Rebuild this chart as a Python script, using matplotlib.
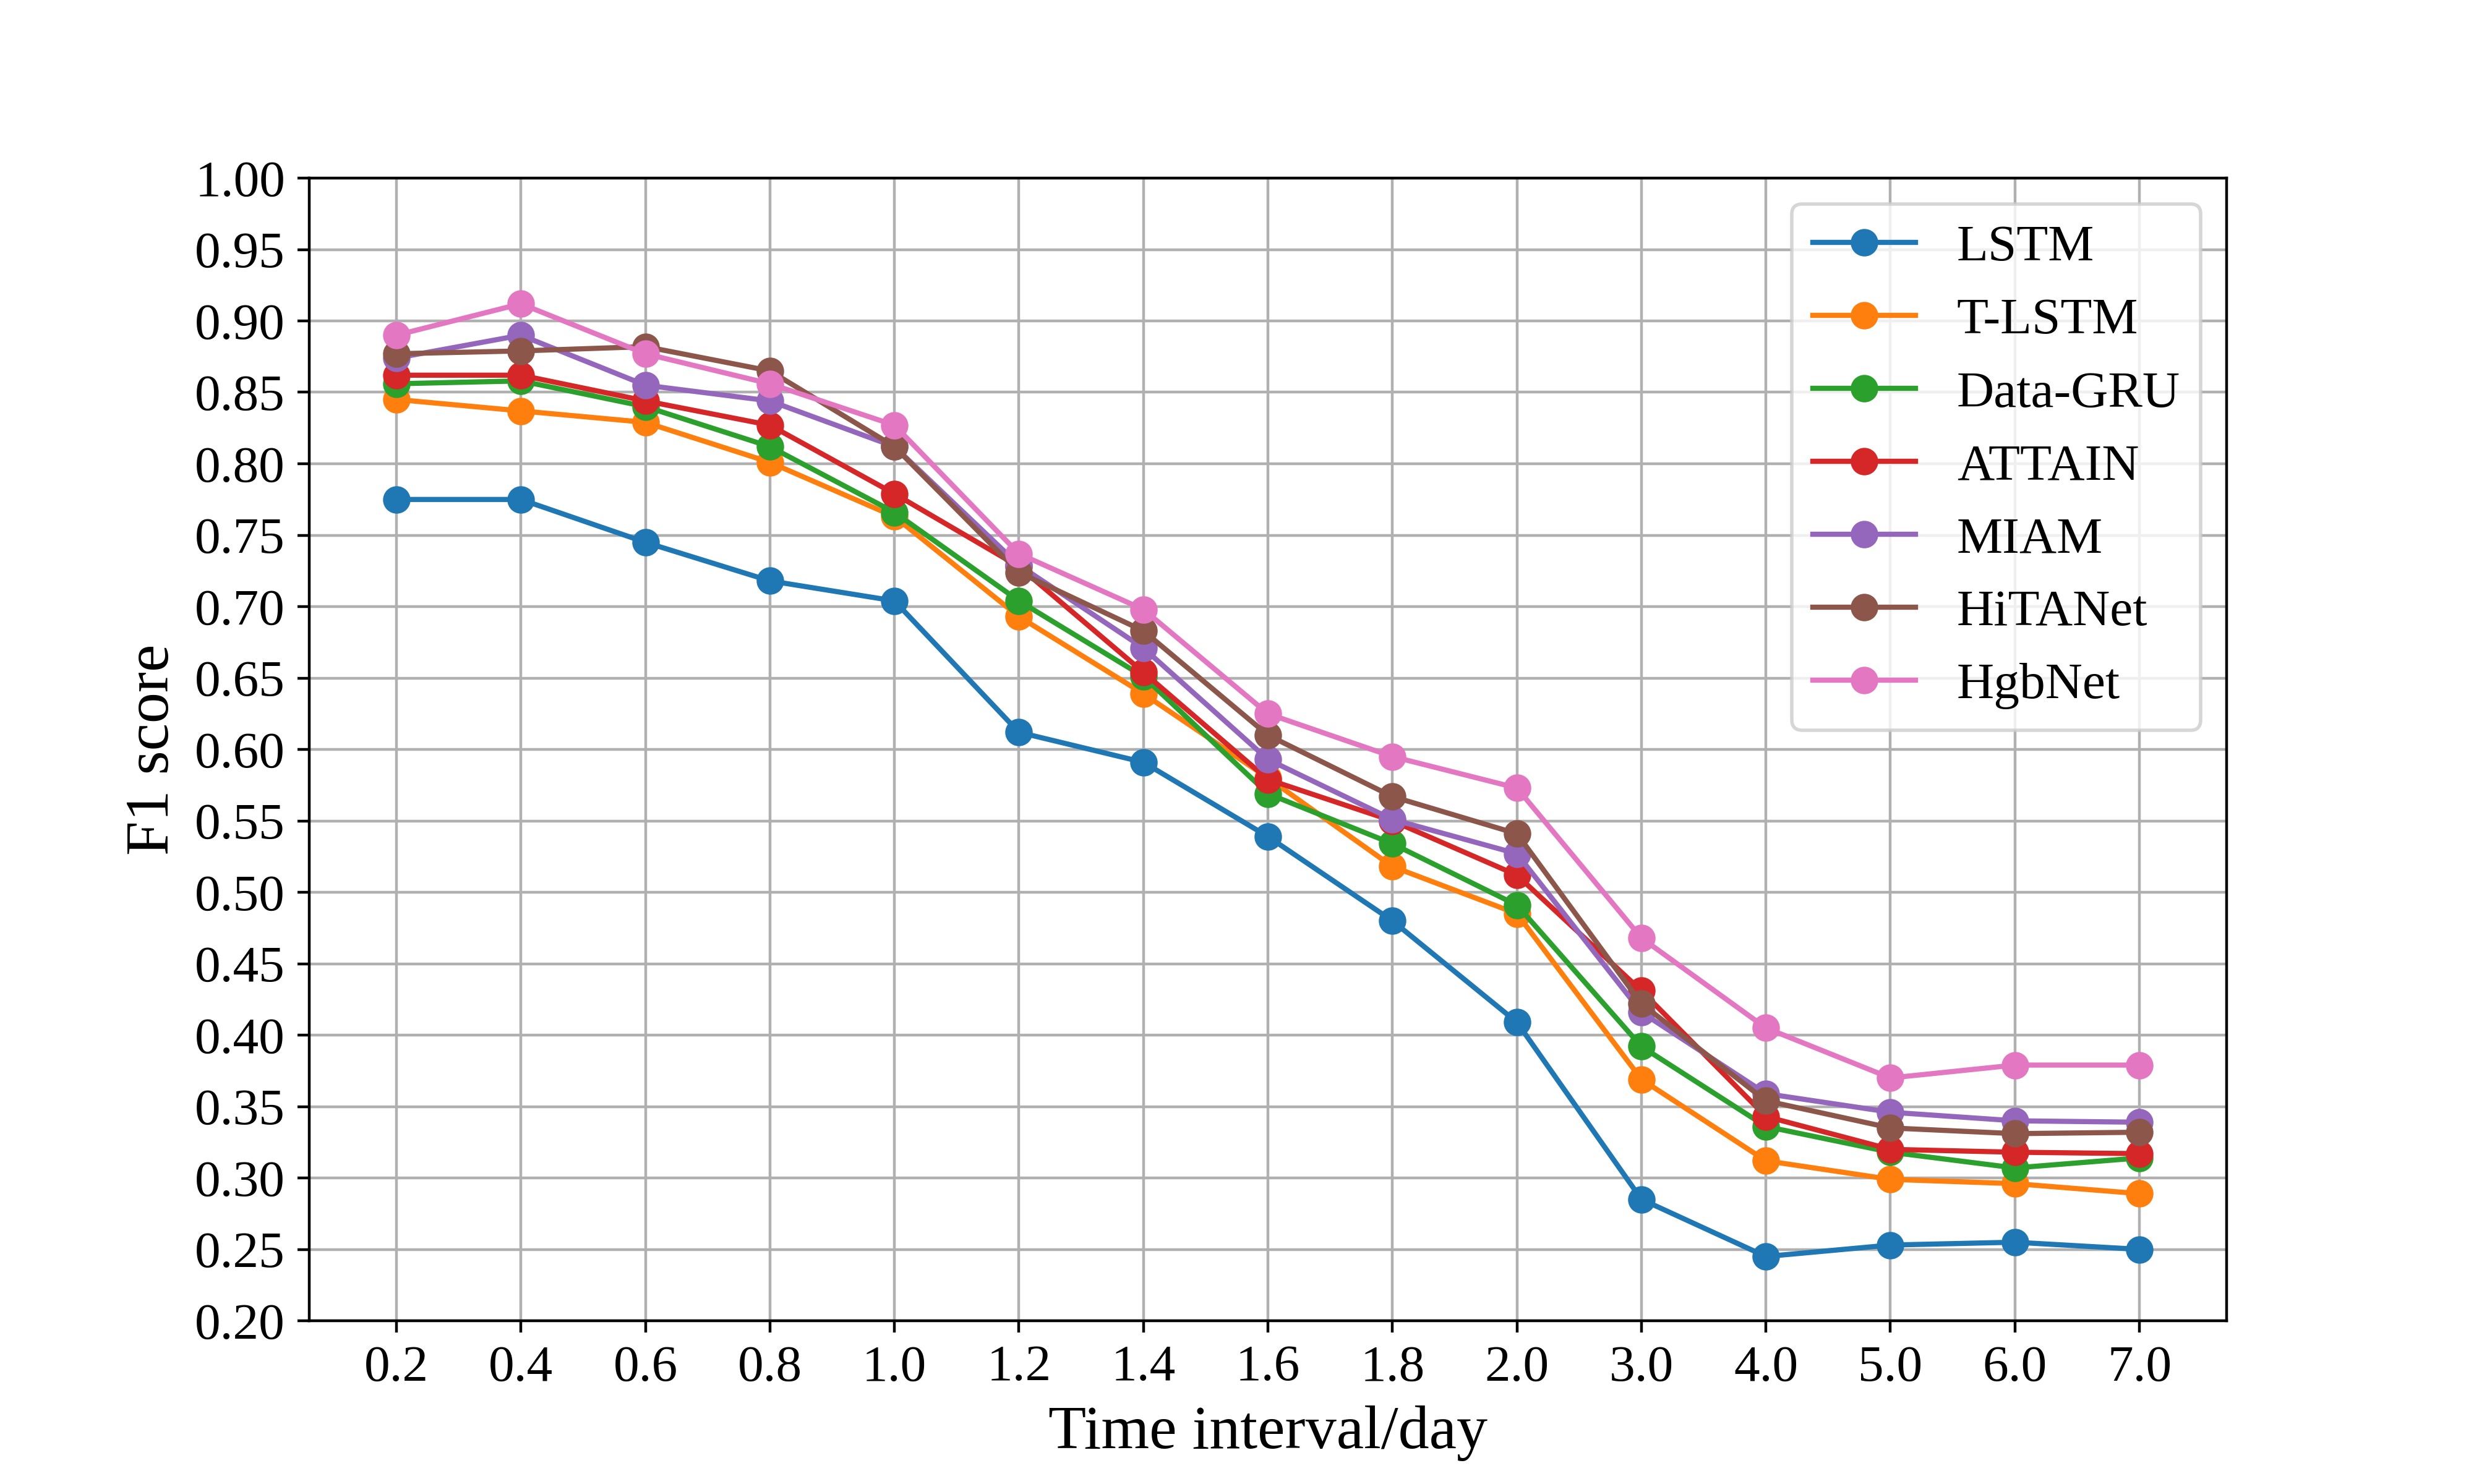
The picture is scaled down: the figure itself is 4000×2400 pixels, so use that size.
import matplotlib
matplotlib.use("Agg")
import matplotlib.pyplot as plt

plt.rcParams["font.family"] = ["Liberation Serif", "DejaVu Serif"]

# x categories (time interval in days)
intervals = ["0.2", "0.4", "0.6", "0.8", "1.0", "1.2", "1.4", "1.6",
             "1.8", "2.0", "3.0", "4.0", "5.0", "6.0", "7.0"]

lstm = [0.775, 0.775, 0.745, 0.718, 0.704, 0.612, 0.591, 0.539,
        0.480, 0.409, 0.285, 0.245, 0.253, 0.255, 0.250]
t_lstm = [0.845, 0.837, 0.829, 0.801, 0.763, 0.693, 0.639, 0.580,
          0.518, 0.485, 0.369, 0.312, 0.299, 0.296, 0.289]
data_gru = [0.856, 0.858, 0.840, 0.812, 0.766, 0.704, 0.651, 0.569,
            0.534, 0.491, 0.392, 0.336, 0.318, 0.307, 0.314]
attain = [0.862, 0.862, 0.844, 0.827, 0.779, 0.728, 0.654, 0.579,
          0.550, 0.512, 0.431, 0.343, 0.320, 0.318, 0.317]
miam = [0.874, 0.890, 0.855, 0.844, 0.812, 0.729, 0.671, 0.593,
        0.551, 0.527, 0.416, 0.359, 0.346, 0.340, 0.339]
hitanet = [0.877, 0.879, 0.882, 0.865, 0.812, 0.724, 0.683, 0.610,
           0.567, 0.541, 0.422, 0.354, 0.335, 0.331, 0.332]
hgbnet = [0.890, 0.912, 0.877, 0.856, 0.827, 0.737, 0.698, 0.625,
          0.595, 0.573, 0.468, 0.405, 0.370, 0.379, 0.379]

series = [
    ("LSTM", lstm),
    ("T-LSTM", t_lstm),
    ("Data-GRU", data_gru),
    ("ATTAIN", attain),
    ("MIAM", miam),
    ("HiTANet", hitanet),
    ("HgbNet", hgbnet),
]

fig, ax = plt.subplots(figsize=(10, 6))

for name, vals in series:
    ax.plot(intervals, vals, marker="o", markersize=7, linewidth=1.5, label=name)

ax.set_ylim(0.2, 1.0)
ax.set_yticks([0.20 + 0.05 * i for i in range(17)])
ax.set_yticklabels([f"{0.20 + 0.05 * i:.2f}" for i in range(17)])
ax.tick_params(axis="both", labelsize=15)
ax.set_xlabel("Time interval/day", fontsize=18)
ax.set_ylabel("F1 score", fontsize=18)
ax.grid(True)
ax.legend(loc="upper right", fontsize=15)

fig.savefig("out.png", dpi=400)
